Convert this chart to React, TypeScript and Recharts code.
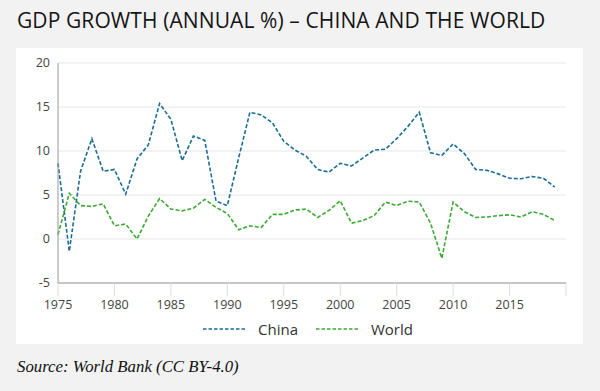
import { CartesianGrid, Legend, Line, LineChart, XAxis, YAxis } from "recharts";

const years = [
  1975, 1976, 1977, 1978, 1979, 1980, 1981, 1982, 1983, 1984, 1985, 1986, 1987, 1988, 1989,
  1990, 1991, 1992, 1993, 1994, 1995, 1996, 1997, 1998, 1999, 2000, 2001, 2002, 2003, 2004,
  2005, 2006, 2007, 2008, 2009, 2010, 2011, 2012, 2013, 2014, 2015, 2016, 2017, 2018, 2019,
];

const china = [
  8.6, -1.4, 7.7, 11.4, 7.7, 7.9, 5.1, 9.1, 10.7, 15.4, 13.6, 8.9, 11.7, 11.2, 4.3,
  3.8, 9.2, 14.4, 14.1, 13.2, 11.1, 10.1, 9.4, 7.9, 7.6, 8.6, 8.3, 9.2, 10.1, 10.2,
  11.4, 12.8, 14.4, 9.8, 9.5, 10.8, 9.7, 7.9, 7.8, 7.4, 6.9, 6.85, 7.1, 6.9, 5.9,
];

const world = [
  0.5, 5.2, 3.8, 3.7, 4.0, 1.5, 1.7, 0.0, 2.6, 4.6, 3.4, 3.2, 3.5, 4.5, 3.6,
  2.9, 1.05, 1.5, 1.3, 2.8, 2.8, 3.3, 3.4, 2.45, 3.25, 4.35, 1.8, 2.1, 2.65, 4.2,
  3.8, 4.3, 4.2, 1.8, -2.2, 4.2, 3.1, 2.45, 2.5, 2.65, 2.75, 2.5, 3.1, 2.8, 2.1,
];

const xTicks = [1975, 1980, 1985, 1990, 1995, 2000, 2005, 2010, 2015, 2020];
const yTicks = [-5, 0, 5, 10, 15, 20];

const CHINA_COLOR = "#1b6d94";
const WORLD_COLOR = "#3aaa35";
const FONT = "'Open Sans', sans-serif";

const data = years.map((year, i) => ({ year, china: china[i], world: world[i] }));

function LegendContent() {
  const items = [
    { name: "China", color: CHINA_COLOR },
    { name: "World", color: WORLD_COLOR },
  ];
  return (
    <div
      style={{
        display: "flex",
        justifyContent: "center",
        alignItems: "center",
        height: 31,
        gap: 18,
        paddingLeft: 34,
      }}
    >
      {items.map((it) => (
        <div key={it.name} style={{ display: "flex", alignItems: "center" }}>
          <svg width={44} height={4} style={{ marginRight: 11 }}>
            <line x1={0} y1={2} x2={44} y2={2} stroke={it.color} strokeWidth={1.6} strokeDasharray="3.5 2" />
          </svg>
          <span style={{ fontFamily: FONT, fontSize: 15, color: "#333" }}>{it.name}</span>
        </div>
      ))}
    </div>
  );
}

export default function App() {
  return (
    <div style={{ position: "absolute", left: 0, top: 0, width: 600, height: 391, background: "#f2f2f2" }}>
      <div
        style={{
          position: "absolute",
          left: 17,
          top: 6,
          fontFamily: FONT,
          fontSize: 21,
          fontWeight: 500,
          letterSpacing: 0.1,
          color: "#151515",
          whiteSpace: "nowrap",
        }}
      >
        GDP GROWTH (ANNUAL %) – CHINA AND THE WORLD
      </div>
      <div style={{ position: "absolute", left: 16, top: 48, width: 567, height: 296, background: "#fff" }}>
        <LineChart width={567} height={296} data={data} margin={{ top: 15, right: 17, left: 0, bottom: 0 }}>
          <CartesianGrid stroke="#e6e6e6" vertical={false} />
          <XAxis
            dataKey="year"
            type="number"
            domain={[1975, 2020]}
            ticks={xTicks}
            tickFormatter={(v) => (v === 2020 ? "" : String(v))}
            tick={{ fill: "#444", fontSize: 12.5, fontFamily: FONT }}
            stroke="#999"
            tickLine={{ stroke: "#ddd" }}
            tickSize={13}
            tickMargin={4}
            height={30}
          />
          <YAxis
            domain={[-5, 20]}
            ticks={yTicks}
            tick={{ fill: "#444", fontSize: 12.5, fontFamily: FONT }}
            stroke="#999"
            tickLine={false}
            tickSize={0}
            tickMargin={8}
            width={42}
          />
          <Legend verticalAlign="bottom" content={<LegendContent />} />
          <Line
            dataKey="china"
            name="China"
            stroke={CHINA_COLOR}
            strokeWidth={1.6}
            strokeDasharray="4 2"
            dot={false}
            type="linear"
            isAnimationActive={false}
          />
          <Line
            dataKey="world"
            name="World"
            stroke={WORLD_COLOR}
            strokeWidth={1.6}
            strokeDasharray="4 2"
            dot={false}
            type="linear"
            isAnimationActive={false}
          />
        </LineChart>
      </div>
      <div
        style={{
          position: "absolute",
          left: 17,
          top: 357,
          fontFamily: "'Liberation Serif', serif",
          fontStyle: "italic",
          fontSize: 16.8,
          color: "#111",
          whiteSpace: "nowrap",
        }}
      >
        Source: World Bank (CC BY-4.0)
      </div>
    </div>
  );
}
